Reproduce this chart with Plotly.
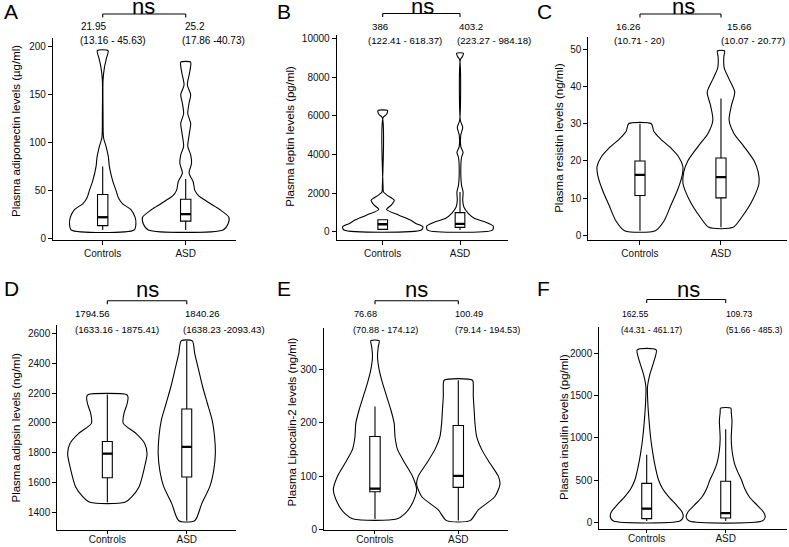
import plotly.graph_objects as go

W, H = 789, 547
def px(x): return x / W
def py(y): return 1 - y / H

# ---------------- data ----------------
categories = ["Controls", "ASD"]
panel_letters = ["A", "B", "C", "D", "E", "F"]
y_titles = ["Plasma adiponectin levels (µg/ml)", "Plasma leptin levels (pg/ml)",
            "Plasma resistin levels (ng/ml)", "Plasma adipsin levels (ng/ml)",
            "Plasma Lipocalin-2 levels (ng/ml)", "Plasma insulin levels (pg/ml)"]
y_tickvals = [[0, 50, 100, 150, 200], [0, 2000, 4000, 6000, 8000, 10000],
              [0, 10, 20, 30, 40, 50], [1400, 1600, 1800, 2000, 2200, 2400, 2600],
              [0, 100, 200, 300], [0, 500, 1000, 1500, 2000]]
sig_labels = ["ns", "ns", "ns", "ns", "ns", "ns"]

# summary labels: median (Q1 - Q3)
ctrl_med_text = ["21.95", "386", "16.26", "1794.56", "76.68", "162.55"]
ctrl_iqr_text = ["(13.16 - 45.63)", "(122.41 - 618.37)", "(10.71 - 20)",
                 "(1633.16 - 1875.41)", "(70.88 - 174.12)", "(44.31 - 461.17)"]
asd_med_text = ["25.2", "403.2", "15.66", "1840.26", "100.49", "109.73"]
asd_iqr_text = ["(17.86 -40.73)", "(223.27 - 984.18)", "(10.07 - 20.77)",
                "(1638.23 -2093.43)", "(79.14 - 194.53)", "(51.66 - 485.3)"]

# box statistics [lower whisker, Q1, median, Q3, upper whisker]
ctrl_box = [[8.7, 13.16, 21.95, 45.63, 75], [85, 122.41, 386, 618.37, 650],
            [1.25, 10.71, 16.26, 20, 30], [1469, 1633.16, 1794.56, 1875.41, 2190],
            [20, 70.88, 76.68, 174.12, 230], [15, 44.31, 162.55, 461.17, 800]]
asd_box = [[8.7, 17.86, 25.2, 40.73, 62], [85, 223.27, 403.2, 984.18, 2050],
           [2.15, 10.07, 15.66, 20.77, 36.8], [1346, 1638.23, 1840.26, 2093.43, 2549],
           [17, 79.14, 100.49, 194.53, 279], [15, 51.66, 109.73, 485.3, 1100]]

# violin density profiles: value levels and half-widths (category units)
A_ctrl_lv = [8.7, 15, 22, 30, 36, 42, 50, 60, 75, 85, 96, 105, 130, 165, 178, 188, 196]
A_ctrl_hw = [0.38, 0.40, 0.39, 0.34, 0.24, 0.19, 0.16, 0.12, 0.08, 0.068, 0.04, 0.01, 0.004, 0.004, 0.02, 0.045, 0.065]
A_asd_lv = [8.7, 15, 22, 30, 36, 40, 44, 50, 59, 68, 78, 87, 96, 110, 120, 130, 141, 150, 160, 172, 180, 184]
A_asd_hw = [0.45, 0.51, 0.52, 0.41, 0.30, 0.23, 0.16, 0.11, 0.09, 0.04, 0.07, 0.06, 0.025, 0.045, 0.06, 0.025, 0.04, 0.06, 0.02, 0.045, 0.06, 0.06]

B_ctrl_lv = [85, 256, 427, 600, 855, 1150, 1370, 1620, 1880, 2050, 2300, 5900, 6070, 6270]
B_ctrl_hw = [0.50, 0.52, 0.43, 0.36, 0.21, 0.05, 0.11, 0.15, 0.06, 0.01, 0.005, 0.005, 0.05, 0.06]
B_asd_lv = [85, 290, 513, 684, 940, 1280, 1620, 2050, 2400, 3000, 3850, 4100, 4400, 5000, 5400, 5750, 8900, 9050, 9230]
B_asd_hw = [0.42, 0.43, 0.32, 0.19, 0.11, 0.05, 0.035, 0.04, 0.02, 0.01, 0.02, 0.04, 0.01, 0.01, 0.035, 0.005, 0.005, 0.03, 0.045]

C_ctrl_lv = [1.25, 4, 8, 12, 16, 18.5, 21, 23.5, 26, 28, 30]
C_ctrl_hw = [0.19, 0.30, 0.38, 0.46, 0.52, 0.53, 0.48, 0.38, 0.25, 0.17, 0.14]
C_asd_lv = [2.15, 5, 9.5, 14, 17, 20, 24, 27.4, 31, 35, 38.5, 42, 45, 48, 49.6]
C_asd_hw = [0.15, 0.26, 0.39, 0.47, 0.46, 0.41, 0.28, 0.16, 0.10, 0.13, 0.17, 0.10, 0.04, 0.035, 0.045]

D_ctrl_lv = [1469, 1507, 1574, 1685, 1796, 1863, 1930, 1997, 2064, 2130, 2175, 2190]
D_ctrl_hw = [0.22, 0.31, 0.40, 0.46, 0.50, 0.47, 0.36, 0.20, 0.21, 0.25, 0.26, 0.24]
D_asd_lv = [1346, 1462, 1574, 1685, 1796, 1908, 2019, 2130, 2242, 2353, 2465, 2549]
D_asd_hw = [0.10, 0.19, 0.29, 0.34, 0.36, 0.35, 0.32, 0.26, 0.20, 0.15, 0.10, 0.07]

E_ctrl_lv = [20, 30, 50, 75, 100, 124, 150, 174, 199, 224, 249, 274, 299, 324, 342, 353]
E_ctrl_hw = [0.26, 0.36, 0.45, 0.50, 0.45, 0.36, 0.27, 0.24, 0.23, 0.19, 0.14, 0.09, 0.05, 0.03, 0.04, 0.05]
E_asd_lv = [17, 37, 62, 85, 100, 124, 150, 174, 199, 224, 249, 265, 279]
E_asd_hw = [0.14, 0.24, 0.44, 0.50, 0.48, 0.38, 0.28, 0.22, 0.20, 0.19, 0.18, 0.18, 0.17]

F_ctrl_lv = [15, 60, 120, 200, 300, 400, 500, 650, 800, 1000, 1200, 1400, 1600, 1750, 1900, 2040]
F_ctrl_hw = [0.42, 0.46, 0.45, 0.38, 0.28, 0.20, 0.15, 0.11, 0.08, 0.05, 0.03, 0.015, 0.01, 0.04, 0.09, 0.12]
F_asd_lv = [15, 60, 120, 200, 300, 400, 500, 600, 700, 850, 1000, 1100, 1200, 1300, 1350]
F_asd_hw = [0.46, 0.50, 0.48, 0.40, 0.30, 0.24, 0.20, 0.15, 0.11, 0.08, 0.07, 0.075, 0.08, 0.07, 0.065]

ctrl_violins = [(A_ctrl_lv, A_ctrl_hw), (B_ctrl_lv, B_ctrl_hw), (C_ctrl_lv, C_ctrl_hw),
                (D_ctrl_lv, D_ctrl_hw), (E_ctrl_lv, E_ctrl_hw), (F_ctrl_lv, F_ctrl_hw)]
asd_violins = [(A_asd_lv, A_asd_hw), (B_asd_lv, B_asd_hw), (C_asd_lv, C_asd_hw),
               (D_asd_lv, D_asd_hw), (E_asd_lv, E_asd_hw), (F_asd_lv, F_asd_hw)]

# ---------------- layout geometry (pixels) ----------------
geom = [(53, 236, 38, 240), (336.7, 507.7, 35, 240), (588.3, 787, 36.7, 240),
        (57.3, 236, 325, 530), (324, 507.7, 328.3, 530), (599.3, 787, 326.7, 529)]
x_ranges = [[-0.599, 1.606], [-0.595, 1.617], [-0.638, 1.815],
            [-0.63, 1.62], [-0.612, 1.593], [-0.6, 1.776]]
y_ranges = [[-1.8, 209.1], [-429, 10173], [-1.26, 53.4],
            [1284, 2655], [-0.5, 376], [-79, 2314]]
xlabel_standoff = [0, 0, 0, -3, -3, -3]
xtick_len = [4, 4, 4, 3, 3, 3]
letter_pos = [(2, 11), (275, 11), (535, 11), (2, 288), (275, 288), (535, 288)]
ns_pos = [(143, 6), (422.7, 6), (683.3, 6), (147, 289), (416.7, 289), (688, 289)]
bracket_y = [14, 13.5, 14, 300.7, 300.7, 299.5]
stat_rows = [(26.7, 40.7)] * 3 + [(313.5, 329.5)] * 3
stat_font = [10, 9.7, 9.8, 9.6, 9.2, 8.6]
ctrl_text_x = [(79, 78), (370, 366), (614.3, 611.7), (72.7, 72.7), (351.7, 350.7), (620, 619)]
asd_text_x = [(183, 180), (456.7, 455), (725, 719), (183.3, 181), (452.7, 452.7), (724, 724)]
ytitle_pos = [(16, 131), (290, 136.7), (558.3, 137.5), (15, 427.5), (291.7, 421.7), (563.3, 426.7)]

FONT = "Liberation Sans"
LW = 1.1
BOXW = 0.125

fig = go.Figure()
annotations = []
shapes = []
layout_axes = {}

for i in range(6):
    n = i + 1
    xa = "x" if n == 1 else f"x{n}"
    ya = "y" if n == 1 else f"y{n}"
    x0, x1, y0, y1 = geom[i]

    for c, (lv, hw), box in ((0, ctrl_violins[i], ctrl_box[i]), (1, asd_violins[i], asd_box[i])):
        fig.add_trace(go.Box(x=[c], lowerfence=[box[0]], q1=[box[1]], median=[box[2]],
                             q3=[box[3]], upperfence=[box[4]], width=BOXW, whiskerwidth=0,
                             fillcolor="white", line=dict(color="black", width=LW),
                             boxpoints=False, showlegend=False, xaxis=xa, yaxis=ya))
        xs = [c + w for w in hw] + [c - w for w in reversed(hw)] + [c + hw[0]]
        ys = list(lv) + list(reversed(lv)) + [lv[0]]
        fig.add_trace(go.Scatter(x=xs, y=ys, mode="lines",
                                 line=dict(color="black", width=LW, shape="spline", smoothing=0.7),
                                 hoverinfo="skip", showlegend=False, xaxis=xa, yaxis=ya))
        fig.add_trace(go.Scatter(x=[c - BOXW / 2, c + BOXW / 2], y=[box[2], box[2]],
                                 mode="lines", line=dict(color="black", width=2.3),
                                 hoverinfo="skip", showlegend=False, xaxis=xa, yaxis=ya))

    axis_common = dict(showline=True, linecolor="black", linewidth=LW, ticks="outside",
                       tickwidth=LW, tickcolor="black", showgrid=False,
                       zeroline=False, tickfont=dict(family=FONT, size=10, color="#111"))
    layout_axes["xaxis" if n == 1 else f"xaxis{n}"] = dict(
        axis_common, domain=[px(x0), px(x1)], range=x_ranges[i], anchor=ya,
        tickmode="array", tickvals=[0, 1], ticktext=categories, ticklen=xtick_len[i],
        ticklabelstandoff=xlabel_standoff[i])
    layout_axes["yaxis" if n == 1 else f"yaxis{n}"] = dict(
        axis_common, domain=[py(y1), py(y0)], range=y_ranges[i], anchor=xa, ticklen=4,
        tickmode="array", tickvals=y_tickvals[i], tickformat="d")

    lx, ly = letter_pos[i]
    annotations.append(dict(text=panel_letters[i], x=px(lx), y=py(ly), xref="paper", yref="paper",
                            xanchor="left", yanchor="middle", showarrow=False,
                            font=dict(family=FONT, size=21, color="black")))
    nx, ny = ns_pos[i]
    annotations.append(dict(text=sig_labels[i], x=px(nx), y=py(ny), xref="paper", yref="paper",
                            xanchor="center", yanchor="middle", showarrow=False,
                            font=dict(family=FONT, size=22, color="black")))
    by = bracket_y[i]
    shapes.append(dict(type="line", xref=xa, yref="paper", x0=0, x1=1, y0=py(by), y1=py(by),
                       line=dict(color="black", width=LW)))
    for c in (0, 1):
        shapes.append(dict(type="line", xref=xa, yref="paper", x0=c, x1=c, y0=py(by),
                           y1=py(by + 3.5), line=dict(color="black", width=LW)))
    r1, r2 = stat_rows[i]
    for (tx1, tx2), t1, t2 in ((ctrl_text_x[i], ctrl_med_text[i], ctrl_iqr_text[i]),
                               (asd_text_x[i], asd_med_text[i], asd_iqr_text[i])):
        annotations.append(dict(text=t1, x=px(tx1), y=py(r1), xref="paper", yref="paper",
                                xanchor="left", yanchor="middle", showarrow=False,
                                font=dict(family=FONT, size=stat_font[i], color="black")))
        annotations.append(dict(text=t2, x=px(tx2), y=py(r2), xref="paper", yref="paper",
                                xanchor="left", yanchor="middle", showarrow=False,
                                font=dict(family=FONT, size=stat_font[i], color="black")))
    tx, ty = ytitle_pos[i]
    annotations.append(dict(text=y_titles[i], x=px(tx), y=py(ty), xref="paper", yref="paper",
                            xanchor="center", yanchor="middle", textangle=-90, showarrow=False,
                            font=dict(family=FONT, size=11.5, color="black")))

fig.update_layout(width=W, height=H, margin=dict(l=0, r=0, t=0, b=0, autoexpand=False),
                  plot_bgcolor="white", paper_bgcolor="white",
                  annotations=annotations, shapes=shapes, showlegend=False, **layout_axes)
fig.write_html("out.html", config={"displayModeBar": False},
               post_script="document.body.style.margin='0px';document.body.style.padding='0px';")
